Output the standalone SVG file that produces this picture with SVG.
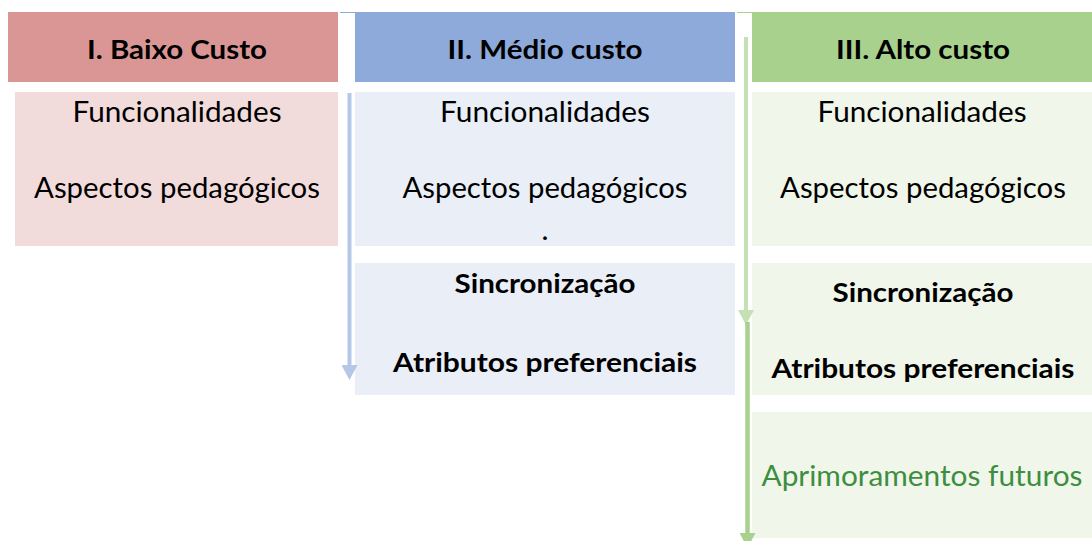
<svg xmlns="http://www.w3.org/2000/svg" width="1092" height="541" viewBox="0 0 1092 541">
  <style>
    .t { font-family: Lato, "Open Sans", "Liberation Sans", sans-serif; text-anchor: middle; fill: #000; }
    .h { font-size: 27px; font-weight: 700; }
    .r { font-size: 29.5px; font-weight: 400; }
    .b { font-size: 27px; font-weight: 700; }
    .g { fill: #3E8E41; }
    .red-h { fill: #D99694; }
    .red-b { fill: #F2DCDB; }
    .blue-h { fill: #8EAADB; }
    .blue-b { fill: #E9EEF7; }
    .green-h { fill: #A9D18E; }
    .green-b { fill: #F0F6EA; }
  </style>
  <defs>
    <marker id="ahBlue" markerUnits="userSpaceOnUse" markerWidth="15" markerHeight="16" viewBox="0 0 15 16" refX="0" refY="8" orient="auto">
      <path d="M0,0 L15,8 L0,16 Z" fill="#B4C7E7"/>
    </marker>
    <marker id="ahGreenLight" markerUnits="userSpaceOnUse" markerWidth="15" markerHeight="16" viewBox="0 0 15 16" refX="0" refY="8" orient="auto">
      <path d="M0,0 L15,8 L0,16 Z" fill="#C5E0B4"/>
    </marker>
    <marker id="ahGreen" markerUnits="userSpaceOnUse" markerWidth="15" markerHeight="16" viewBox="0 0 15 16" refX="0" refY="8" orient="auto">
      <path d="M0,0 L15,8 L0,16 Z" fill="#A9D18E"/>
    </marker>
  </defs>
  <rect x="0" y="0" width="1092" height="541" fill="#FFFFFF"/>

  <!-- Column I -->
  <g id="header-baixo">
    <rect class="red-h" x="8" y="12" width="330" height="70"/>
    <text class="t h" x="177" y="59" textLength="180" lengthAdjust="spacingAndGlyphs">I. Baixo Custo</text>
  </g>
  <g id="body-baixo">
    <rect class="red-b" x="15" y="92" width="323" height="154"/>
    <text class="t r" x="177" y="122" textLength="209" lengthAdjust="spacingAndGlyphs">Funcionalidades</text>
    <text class="t r" x="177" y="198" textLength="286" lengthAdjust="spacingAndGlyphs">Aspectos pedagógicos</text>
  </g>

  <!-- Column II -->
  <g id="header-medio">
    <rect class="blue-h" x="355" y="12" width="380" height="70"/>
    <line x1="340" y1="12.5" x2="355" y2="12.5" stroke="#8EAADB" stroke-width="1"/>
    <text class="t h" x="545" y="59" textLength="195" lengthAdjust="spacingAndGlyphs">II. Médio custo</text>
  </g>
  <g id="body-medio-1">
    <rect class="blue-b" x="355" y="92" width="380" height="154"/>
    <text class="t r" x="545" y="122" textLength="210" lengthAdjust="spacingAndGlyphs">Funcionalidades</text>
    <text class="t r" x="545" y="198" textLength="285" lengthAdjust="spacingAndGlyphs">Aspectos pedagógicos</text>
    <text class="t r" x="545" y="240">.</text>
  </g>
  <g id="body-medio-2">
    <rect class="blue-b" x="355" y="263" width="380" height="132"/>
    <text class="t b" x="545" y="293" textLength="181" lengthAdjust="spacingAndGlyphs">Sincronização</text>
    <text class="t b" x="545" y="372" textLength="304" lengthAdjust="spacingAndGlyphs">Atributos preferenciais</text>
  </g>

  <!-- Column III -->
  <g id="header-alto">
    <rect class="green-h" x="752" y="12" width="340" height="70"/>
    <line x1="737" y1="12.5" x2="752" y2="12.5" stroke="#A9D18E" stroke-width="1"/>
    <text class="t h" x="923" y="59" textLength="174" lengthAdjust="spacingAndGlyphs">III. Alto custo</text>
  </g>
  <g id="body-alto-1">
    <rect class="green-b" x="752" y="92" width="340" height="154"/>
    <text class="t r" x="922" y="122" textLength="209" lengthAdjust="spacingAndGlyphs">Funcionalidades</text>
    <text class="t r" x="923" y="198" textLength="286" lengthAdjust="spacingAndGlyphs">Aspectos pedagógicos</text>
  </g>
  <g id="body-alto-2">
    <rect class="green-b" x="752" y="263" width="340" height="132"/>
    <text class="t b" x="923" y="302" textLength="181" lengthAdjust="spacingAndGlyphs">Sincronização</text>
    <text class="t b" x="923" y="378" textLength="303" lengthAdjust="spacingAndGlyphs">Atributos preferenciais</text>
  </g>
  <g id="body-alto-3">
    <rect class="green-b" x="752" y="412" width="340" height="126"/>
    <text class="t r g" x="922" y="486" textLength="321" lengthAdjust="spacingAndGlyphs">Aprimoramentos futuros</text>
  </g>

  <!-- Connectors -->
  <g id="connectors" fill="none">
    <line x1="349.5" y1="93" x2="349.5" y2="365" stroke="#B4C7E7" stroke-width="4" marker-end="url(#ahBlue)"/>
    <line x1="746" y1="37" x2="746" y2="310" stroke="#C5E0B4" stroke-width="4" marker-end="url(#ahGreenLight)"/>
    <line x1="747.5" y1="322" x2="747.5" y2="533" stroke="#A9D18E" stroke-width="4.5" marker-end="url(#ahGreen)"/>
  </g>
</svg>
